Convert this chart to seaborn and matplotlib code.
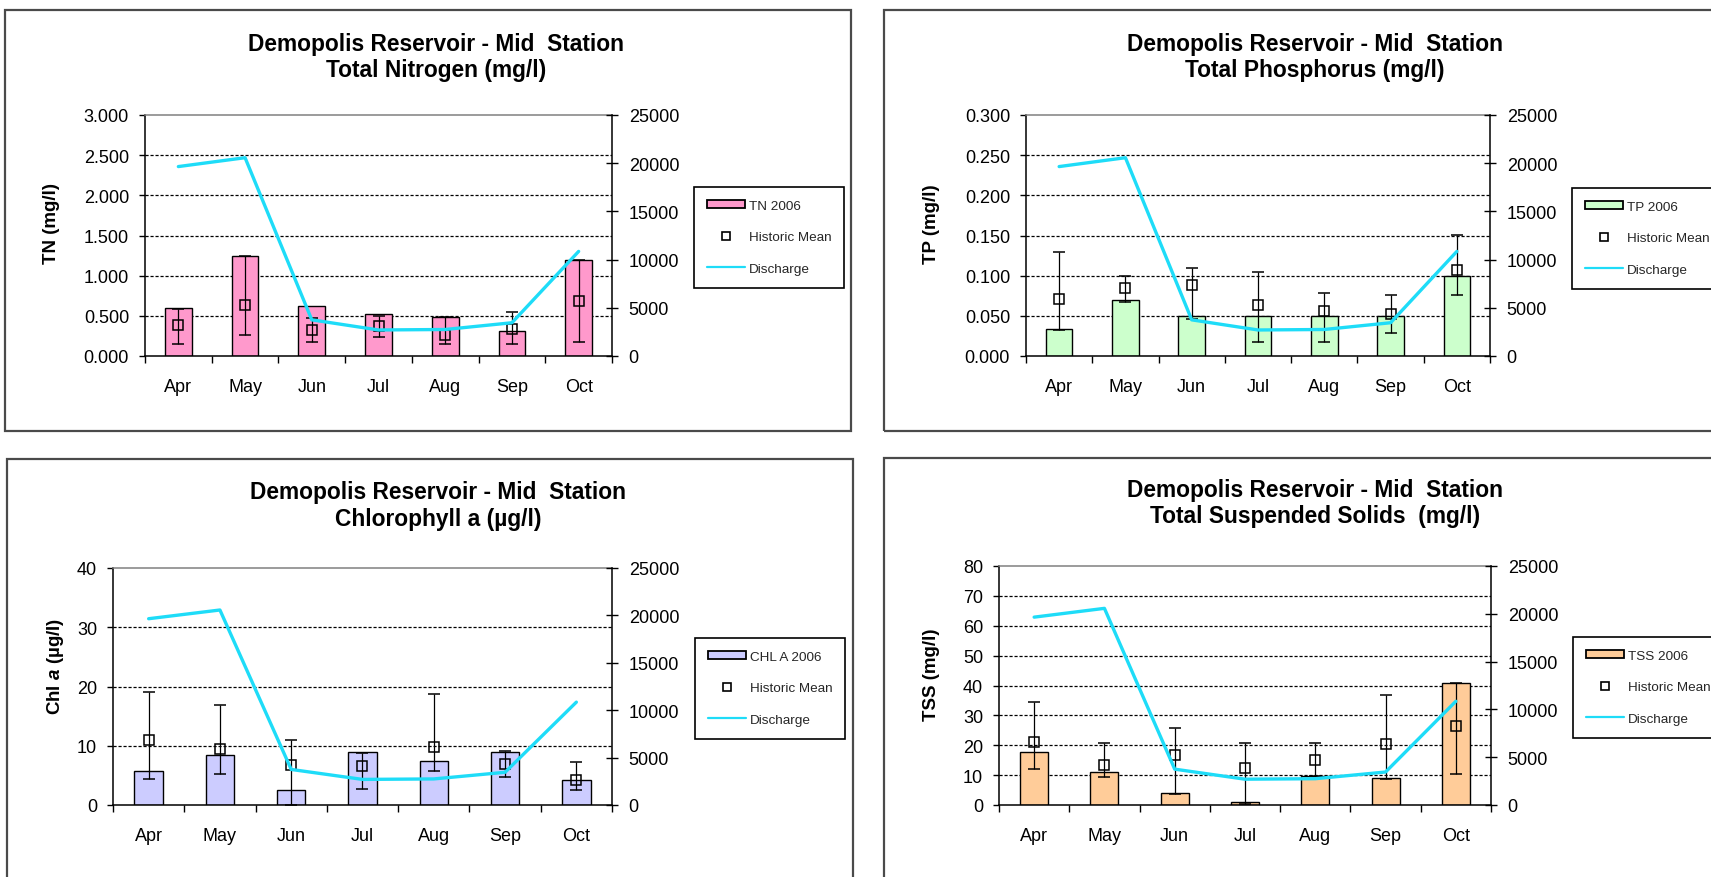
import numpy as np
import pandas as pd
import matplotlib
matplotlib.use("Agg")
import matplotlib.pyplot as plt
from matplotlib.patches import Patch, Rectangle
from matplotlib.lines import Line2D
from matplotlib.ticker import FormatStrFormatter
import seaborn as sns

# ---------------------------------------------------------------- data
months = ["Apr", "May", "Jun", "Jul", "Aug", "Sep", "Oct"]
discharge = [19650, 20570, 3750, 2700, 2750, 3450, 10850]

tn_2006 = [0.60, 1.25, 0.62, 0.52, 0.49, 0.31, 1.20]
tn_mean = [0.39, 0.64, 0.32, 0.37, 0.26, 0.34, 0.69]
tn_low = [0.15, 0.26, 0.17, 0.24, 0.15, 0.15, 0.18]
tn_high = [0.59, 1.25, 0.47, 0.50, 0.49, 0.55, 1.19]

tp_2006 = [0.033, 0.070, 0.050, 0.050, 0.050, 0.050, 0.100]
tp_mean = [0.071, 0.085, 0.088, 0.063, 0.056, 0.052, 0.107]
tp_low = [0.032, 0.067, 0.046, 0.018, 0.018, 0.029, 0.076]
tp_high = [0.129, 0.099, 0.109, 0.105, 0.078, 0.076, 0.151]

chl_2006 = [5.7, 8.4, 2.5, 8.9, 7.5, 8.9, 4.2]
chl_mean = [10.9, 9.4, 6.7, 6.5, 9.8, 7.0, 4.3]
chl_low = [4.4, 5.2, 0.0, 2.7, 5.7, 4.7, 2.5]
chl_high = [19.0, 16.8, 10.9, 8.8, 18.7, 9.1, 7.2]

tss_2006 = [17.9, 10.9, 3.9, 1.0, 9.8, 8.9, 41.0]
tss_mean = [21.2, 13.4, 16.7, 12.4, 15.1, 20.4, 26.6]
tss_low = [12.2, 9.3, 3.6, 0.4, 9.8, 8.7, 10.4]
tss_high = [34.6, 20.8, 25.7, 20.8, 20.8, 36.7, 40.8]

# ---------------------------------------------------------------- style
sns.set_theme(style="ticks")
plt.rcParams["font.family"] = ["Liberation Sans", "DejaVu Sans"]
plt.rcParams["mathtext.fontset"] = "custom"
plt.rcParams["mathtext.it"] = "Liberation Sans:italic:bold"
plt.rcParams["mathtext.rm"] = "Liberation Sans:bold"

CYAN = "#1EDCF8"
W, H = 1711, 878
fig = plt.figure(figsize=(W / 100, H / 100), dpi=100)
fig.patch.set_facecolor("white")


def fig_box(x0, y0, x1, y1):
    return [x0 / W, 1 - y1 / H, (x1 - x0) / W, (y1 - y0) / H]


def draw_panel(values, mean, low, high, ymax, ystep, fmt, color,
               ylabel, subtitle, bar_label, lay):
    # outer chart frame
    fx0, fy0, fx1, fy1 = lay["frame"]
    fig.add_artist(Rectangle((fx0 / W, 1 - fy1 / H), (fx1 - fx0) / W,
                             (fy1 - fy0) / H, transform=fig.transFigure,
                             fill=False, edgecolor="#4a4a4a", lw=1.6))

    ax = fig.add_axes(fig_box(*lay["axes"]))
    df = pd.DataFrame({"month": months, "value": values})
    sns.barplot(data=df, x="month", y="value", color=color, width=0.4,
                saturation=1, edgecolor="black", linewidth=1.0, ax=ax,
                zorder=2)

    pos = np.arange(len(months))
    mean = np.asarray(mean, dtype=float)
    yerr = [mean - np.asarray(low), np.asarray(high) - mean]
    ax.errorbar(pos, mean, yerr=yerr, fmt="s", mfc="none", mec="black",
                mew=1.1, ms=7, ecolor="black", elinewidth=0.9, capsize=4,
                capthick=0.9, zorder=3)

    ticks = np.arange(0, ymax + ystep / 2, ystep)
    ax.set_ylim(0, ymax)
    ax.set_yticks(ticks)
    ax.yaxis.set_major_formatter(FormatStrFormatter(fmt))
    ax.hlines(ticks[1:-1], -0.5, len(months) - 0.5, colors="black",
              linestyles=(0, (2.5, 1.5)), lw=0.9, zorder=1)

    ax.set_xlim(-0.5, len(months) - 0.5)
    ax.set_xticks(pos)
    ax.set_xticklabels(months)
    ax.set_xticks(np.arange(-0.5, len(months), 1), minor=True)
    ax.tick_params(axis="x", which="major", length=0, pad=16,
                   labelsize=13, labelcolor="black")
    ax.tick_params(axis="x", which="minor", length=5, width=1,
                   direction="out", color="black", bottom=True)
    ax.tick_params(axis="y", which="major", length=4.5, width=1,
                   direction="out", pad=7, labelsize=13, color="black",
                   labelcolor="black", left=True)
    ax.set_xlabel("")
    ax.set_ylabel("")
    for side in ("left", "bottom"):
        ax.spines[side].set_color("black")
        ax.spines[side].set_linewidth(1.1)
    ax.spines["top"].set_visible(True)
    ax.spines["top"].set_color("#808080")
    ax.spines["top"].set_linewidth(1.1)
    ax.spines["right"].set_visible(False)

    ax2 = ax.twinx()
    sns.lineplot(x=pos, y=discharge, ax=ax2, color=CYAN, lw=2.4, zorder=4)
    ax2.set_ylim(0, 25000)
    ax2.set_yticks(np.arange(0, 25001, 5000))
    ax2.set_xlim(-0.5, len(months) - 0.5)
    ax2.tick_params(axis="y", direction="inout", length=8, width=1,
                    pad=8, labelsize=13, color="black", labelcolor="black",
                    right=True)
    ax2.set_ylabel("")
    for side in ("left", "top", "bottom"):
        ax2.spines[side].set_visible(False)
    ax2.spines["right"].set_visible(True)
    ax2.spines["right"].set_color("black")
    ax2.spines["right"].set_linewidth(1.1)

    # titles and axis label
    tx = lay["title_x"]
    fig.text(tx / W, 1 - lay["title_y"][0] / H,
             "Demopolis Reservoir - Mid  Station", ha="center", va="center",
             fontsize=16.4, fontweight="bold", color="black")
    fig.text(tx / W, 1 - lay["title_y"][1] / H, subtitle, ha="center",
             va="center", fontsize=16.4, fontweight="bold", color="black")
    lx, ly = lay["ylabel"]
    fig.text(lx / W, 1 - ly / H, ylabel, rotation=90, ha="center",
             va="center", fontsize=13.5, fontweight="bold", color="black")

    handles = [
        Patch(facecolor=color, edgecolor="black", lw=1.3),
        Line2D([], [], ls="none", marker="s", mfc="none", mec="black",
               ms=5.5, mew=1.2),
        Line2D([], [], color=CYAN, lw=1.6),
    ]
    gx, gy = lay["legend"]
    leg = fig.legend(handles, [bar_label, "Historic Mean", "Discharge"],
                     loc="upper left", bbox_to_anchor=(gx / W, 1 - gy / H),
                     bbox_transform=fig.transFigure, frameon=True,
                     fancybox=False, framealpha=1, edgecolor="black",
                     fontsize=9.7, borderpad=0.95, labelspacing=1.45,
                     handlelength=2.8, handleheight=0.55, handletextpad=0.3,
                     borderaxespad=0)
    leg.get_frame().set_linewidth(1.2)


draw_panel(tn_2006, tn_mean, tn_low, tn_high, 3.0, 0.5, "%.3f", "#FF99CC",
           "TN (mg/l)", "Total Nitrogen (mg/l)", "TN 2006",
           dict(frame=(5, 11, 851, 432), axes=(145, 116, 612, 357),
                title_x=436, title_y=(45, 71), ylabel=(52, 223),
                legend=(694, 188)))

draw_panel(tp_2006, tp_mean, tp_low, tp_high, 0.3, 0.05, "%.3f", "#CCFFCC",
           "TP (mg/l)", "Total Phosphorus (mg/l)", "TP 2006",
           dict(frame=(884, 11, 1780, 432), axes=(1026, 116, 1490, 357),
                title_x=1315, title_y=(45, 71), ylabel=(932, 224),
                legend=(1572, 189)))

draw_panel(chl_2006, chl_mean, chl_low, chl_high, 40, 10, "%d", "#CCCCFF",
           "Chl $a$ (µg/l)", "Chlorophyll a (µg/l)", "CHL A 2006",
           dict(frame=(7, 460, 853, 940), axes=(113, 569, 612, 806),
                title_x=438, title_y=(493, 520), ylabel=(55, 666),
                legend=(695, 639)))

draw_panel(tss_2006, tss_mean, tss_low, tss_high, 80, 10, "%d", "#FFCC99",
           "TSS (mg/l)", "Total Suspended Solids  (mg/l)", "TSS 2006",
           dict(frame=(884, 459, 1780, 940), axes=(999, 567, 1491, 806),
                title_x=1315, title_y=(491, 517), ylabel=(932, 675),
                legend=(1573, 638)))

fig.savefig("out.png", dpi=100, facecolor="white")
